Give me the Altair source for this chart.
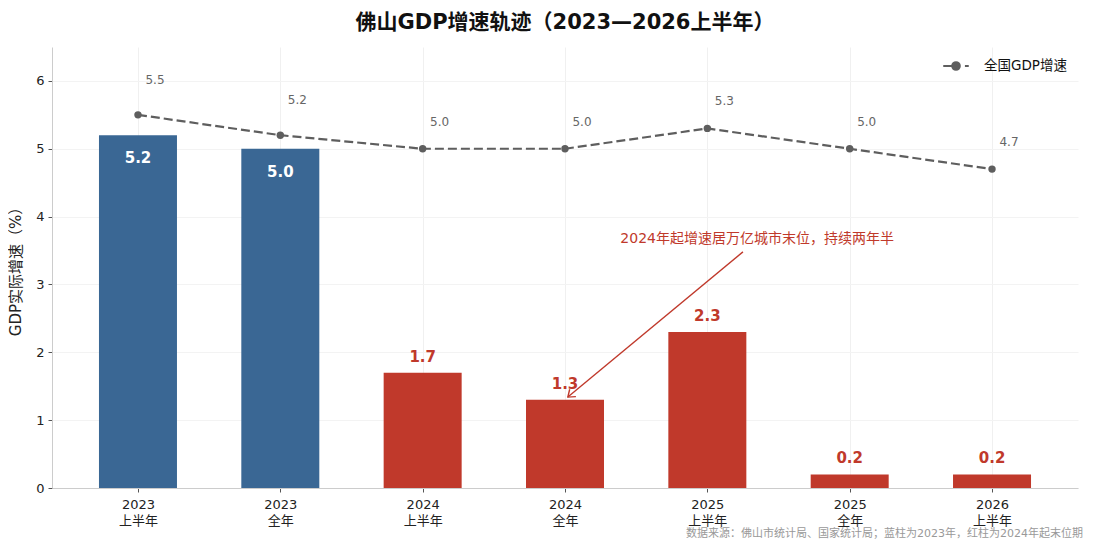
import altair as alt
import pandas as pd

# ---- data ----
periods = ["2023\n上半年", "2023\n全年", "2024\n上半年", "2024\n全年", "2025\n上半年", "2025\n全年", "2026\n上半年"]
foshan = [5.2, 5.0, 1.7, 1.3, 2.3, 0.2, 0.2]
national = [5.5, 5.2, 5.0, 5.0, 5.3, 5.0, 4.7]
groups = ["2023", "2023", "末位", "末位", "末位", "末位", "末位"]
series_name = "全国GDP增速"
title_text = "佛山GDP增速轨迹（2023—2026上半年）"
annot_text = "2024年起增速居万亿城市末位，持续两年半"
footer_text = "数据来源：佛山市统计局、国家统计局；蓝柱为2023年，红柱为2024年起末位期"
# annotation anchor points (data space: period index, % value)
arrow_from = (4.25, 3.48)
arrow_to = (3.02, 1.34)
annot_pos = (4.35, 3.67)

BLUE = "#3a6794"
RED = "#c0392b"
GREY = "#5e5e5e"
FONT = "DejaVu Sans, Noto Sans CJK SC"

df = pd.DataFrame({
    "idx": list(range(len(periods))),
    "period": periods,
    "foshan": foshan,
    "national": national,
    "group": groups,
    "series": [series_name] * len(periods),
})
df["flab"] = df["foshan"].map(lambda v: f"{v:.1f}")
df["nlab"] = df["national"].map(lambda v: f"{v:.1f}")

label_arr = "[" + ",".join("['" + p.split("\n")[0] + "','" + p.split("\n")[1] + "']" for p in periods) + "]"

xscale = alt.Scale(domain=[-0.604, len(periods) - 1 + 0.604], nice=False, zero=False, padding=0)
yscale = alt.Scale(domain=[0, 6.5], nice=False)

xaxis = alt.Axis(values=list(range(len(periods))), labelExpr=label_arr + "[datum.value]",
                 title=None, labelFontSize=13, labelColor="#222", labelPadding=6,
                 grid=True, gridColor="#f0f0f0", domainColor="#cccccc", tickColor="#555",
                 tickSize=4, labelLineHeight=16)
yaxis = alt.Axis(values=[0, 1, 2, 3, 4, 5, 6], format="d", title="GDP实际增速（%）", titleFontSize=15,
                 titleFontWeight="normal", titleColor="#222", labelFontSize=13, labelColor="#222",
                 grid=True, gridColor="#f3f3f3", domainColor="#cccccc", tickColor="#555",
                 tickSize=4, titlePadding=12, labelPadding=4)

base = alt.Chart(df)

bars = base.mark_bar(width=78).encode(
    x=alt.X("idx:Q", scale=xscale, axis=xaxis),
    y=alt.Y("foshan:Q", scale=yscale, axis=yaxis),
    color=alt.Color("group:N", scale=alt.Scale(domain=["2023", "末位"], range=[BLUE, RED]), legend=None),
)

blue_lab = base.transform_filter(alt.datum.group == "2023").mark_text(
    dy=23, color="white", fontSize=15, fontWeight="bold", font=FONT
).encode(x=alt.X("idx:Q", scale=xscale), y=alt.Y("foshan:Q", scale=yscale), text="flab:N")

red_lab = base.transform_filter(alt.datum.group != "2023").mark_text(
    dy=-16, color=RED, fontSize=15, fontWeight="bold", font=FONT
).encode(x=alt.X("idx:Q", scale=xscale), y=alt.Y("foshan:Q", scale=yscale), text="flab:N")

line = base.mark_line(strokeDash=[9, 4], strokeWidth=2.2,
                      point=alt.OverlayMarkDef(size=55, filled=True, opacity=1)).encode(
    x=alt.X("idx:Q", scale=xscale),
    y=alt.Y("national:Q", scale=yscale),
    color=alt.Color("series:N", scale=alt.Scale(domain=[series_name], range=[GREY]),
                    legend=alt.Legend(title=None, orient="none", legendX=890, legendY=5, padding=0,
                                      labelFontSize=13.5, labelColor="#111", labelFont=FONT,
                                      symbolType="M-1,0H0M0.7,0H1M-0.3,0A0.3,0.3,0,1,1,0.3,0A0.3,0.3,0,1,1,-0.3,0",
                                      symbolSize=650, symbolStrokeWidth=2, symbolFillColor=GREY,
                                      symbolStrokeColor=GREY, labelOffset=14)),
)

# labels sit higher above points where a bar rises close beneath them
line_lab = base.transform_calculate(
    ly="datum.national + (datum.group == '2023' ? 0.52 : 0.40)"
).mark_text(dx=17, color="#666", fontSize=12, font=FONT).encode(
    x=alt.X("idx:Q", scale=xscale), y=alt.Y("ly:Q", scale=yscale), text="nlab:N")

arrow_df = pd.DataFrame({"x": [arrow_from[0]], "y": [arrow_from[1]], "x2": [arrow_to[0]], "y2": [arrow_to[1]]})
arrow_line = alt.Chart(arrow_df).mark_rule(color=RED, strokeWidth=1.4).encode(
    x=alt.X("x:Q", scale=xscale), y=alt.Y("y:Q", scale=yscale), x2="x2:Q", y2="y2:Q")
arrow_head = alt.Chart(arrow_df).mark_point(
    shape="M-0.6,0.8L0,0L0.6,0.8", filled=False, color=RED, strokeWidth=1.4, size=260, angle=230, opacity=1
).encode(x=alt.X("x2:Q", scale=xscale), y=alt.Y("y2:Q", scale=yscale))

annot_df = pd.DataFrame({"x": [annot_pos[0]], "y": [annot_pos[1]], "t": [annot_text]})
annot = alt.Chart(annot_df).mark_text(color=RED, fontSize=14, font=FONT).encode(
    x=alt.X("x:Q", scale=xscale), y=alt.Y("y:Q", scale=yscale), text="t:N")

footer = alt.Chart(pd.DataFrame({"t": [footer_text]})).mark_text(
    align="right", baseline="middle", color="#999", fontSize=11, font=FONT
).encode(x=alt.value(1031), y=alt.value(487), text="t:N")

chart = alt.layer(bars, blue_lab, red_lab, line, line_lab, arrow_line, arrow_head, annot, footer).resolve_scale(
    color="independent"
).properties(
    width=1026, height=441,
    title=alt.TitleParams(title_text, fontSize=21, fontWeight="bold", color="#111", font=FONT, offset=14),
    autosize=alt.AutoSizeParams(type="none"),
    padding={"left": 44, "top": 39, "right": 7, "bottom": 55},
).configure(font=FONT).configure_view(stroke=None)

chart.save("out.html", embed_options={"renderer": "svg", "actions": False})
